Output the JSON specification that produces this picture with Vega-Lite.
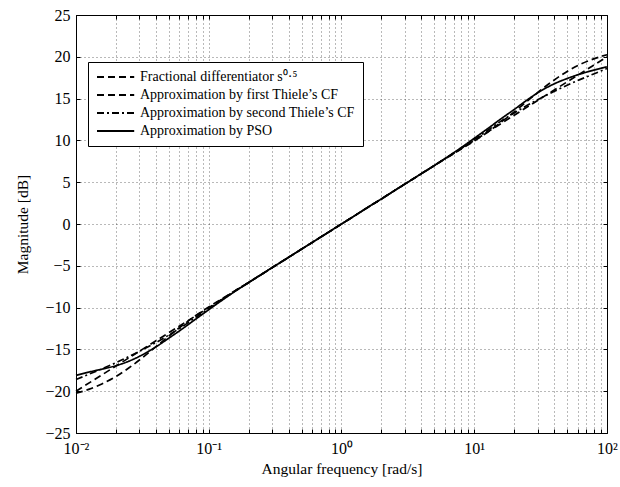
{
"$schema": "https://vega.github.io/schema/vega-lite/v6.json",
"width": 531, "height": 418,
"autosize": {"type": "none"},
"padding": {"left": 76, "top": 15, "right": 13, "bottom": 54},
"background": "white",
"config": {"view": {"stroke": "black", "strokeWidth": 1}, "font": "Liberation Serif"},
"datasets": {"d": [
{"w":0.01,"m":-20,"s":"a"},{"w":0.0316,"m":-15,"s":"a"},{"w":0.1,"m":-10,"s":"a"},{"w":0.316,"m":-5,"s":"a"},{"w":1,"m":0,"s":"a"},{"w":3.16,"m":5,"s":"a"},{"w":10,"m":10,"s":"a"},{"w":31.6,"m":15,"s":"a"},{"w":100,"m":20,"s":"a"},
{"w":0.01,"m":-20.25,"s":"b"},{"w":0.0126,"m":-19.75,"s":"b"},{"w":0.0158,"m":-19.1,"s":"b"},{"w":0.02,"m":-18.25,"s":"b"},{"w":0.0251,"m":-17.2,"s":"b"},{"w":0.0316,"m":-16.0,"s":"b"},{"w":0.0398,"m":-14.7,"s":"b"},{"w":0.0501,"m":-13.4,"s":"b"},{"w":0.0631,"m":-12.15,"s":"b"},{"w":0.0794,"m":-10.98,"s":"b"},{"w":0.1,"m":-9.92,"s":"b"},{"w":0.126,"m":-8.94,"s":"b"},{"w":0.158,"m":-7.97,"s":"b"},{"w":0.2,"m":-7,"s":"b"},{"w":0.251,"m":-6,"s":"b"},{"w":0.316,"m":-5,"s":"b"},{"w":0.398,"m":-4,"s":"b"},{"w":0.501,"m":-3,"s":"b"},{"w":0.631,"m":-2,"s":"b"},{"w":0.794,"m":-1,"s":"b"},{"w":1,"m":0,"s":"b"},{"w":1.26,"m":1,"s":"b"},{"w":1.58,"m":2,"s":"b"},{"w":2,"m":3,"s":"b"},{"w":2.51,"m":4,"s":"b"},{"w":3.16,"m":5,"s":"b"},{"w":3.98,"m":6,"s":"b"},{"w":5.01,"m":7,"s":"b"},{"w":6.31,"m":7.97,"s":"b"},{"w":7.94,"m":8.94,"s":"b"},{"w":10,"m":9.92,"s":"b"},{"w":12.6,"m":10.98,"s":"b"},{"w":15.8,"m":12.15,"s":"b"},{"w":20,"m":13.4,"s":"b"},{"w":25.1,"m":14.7,"s":"b"},{"w":31.6,"m":16.0,"s":"b"},{"w":39.8,"m":17.2,"s":"b"},{"w":50.1,"m":18.25,"s":"b"},{"w":63.1,"m":19.1,"s":"b"},{"w":79.4,"m":19.75,"s":"b"},{"w":100,"m":20.25,"s":"b"},
{"w":0.01,"m":-18.6,"s":"c"},{"w":0.0126,"m":-17.95,"s":"c"},{"w":0.0158,"m":-17.3,"s":"c"},{"w":0.02,"m":-16.6,"s":"c"},{"w":0.0251,"m":-15.85,"s":"c"},{"w":0.0316,"m":-15.05,"s":"c"},{"w":0.0398,"m":-14.2,"s":"c"},{"w":0.0501,"m":-13.28,"s":"c"},{"w":0.0631,"m":-12.28,"s":"c"},{"w":0.0794,"m":-11.2,"s":"c"},{"w":0.1,"m":-10.1,"s":"c"},{"w":0.126,"m":-9.04,"s":"c"},{"w":0.158,"m":-8,"s":"c"},{"w":0.2,"m":-7,"s":"c"},{"w":0.251,"m":-6,"s":"c"},{"w":0.316,"m":-5,"s":"c"},{"w":0.398,"m":-4,"s":"c"},{"w":0.501,"m":-3,"s":"c"},{"w":0.631,"m":-2,"s":"c"},{"w":0.794,"m":-1,"s":"c"},{"w":1,"m":0,"s":"c"},{"w":1.26,"m":1,"s":"c"},{"w":1.58,"m":2,"s":"c"},{"w":2,"m":3,"s":"c"},{"w":2.51,"m":4,"s":"c"},{"w":3.16,"m":5,"s":"c"},{"w":3.98,"m":6,"s":"c"},{"w":5.01,"m":7,"s":"c"},{"w":6.31,"m":8,"s":"c"},{"w":7.94,"m":9.04,"s":"c"},{"w":10,"m":10.1,"s":"c"},{"w":12.6,"m":11.2,"s":"c"},{"w":15.8,"m":12.28,"s":"c"},{"w":20,"m":13.28,"s":"c"},{"w":25.1,"m":14.2,"s":"c"},{"w":31.6,"m":15.05,"s":"c"},{"w":39.8,"m":15.85,"s":"c"},{"w":50.1,"m":16.6,"s":"c"},{"w":63.1,"m":17.3,"s":"c"},{"w":79.4,"m":17.95,"s":"c"},{"w":100,"m":18.6,"s":"c"},
{"w":0.01,"m":-18.1,"s":"d"},{"w":0.0126,"m":-17.7,"s":"d"},{"w":0.0158,"m":-17.35,"s":"d"},{"w":0.02,"m":-16.95,"s":"d"},{"w":0.0251,"m":-16.4,"s":"d"},{"w":0.0316,"m":-15.65,"s":"d"},{"w":0.0398,"m":-14.72,"s":"d"},{"w":0.0501,"m":-13.65,"s":"d"},{"w":0.0631,"m":-12.55,"s":"d"},{"w":0.0794,"m":-11.4,"s":"d"},{"w":0.1,"m":-10.25,"s":"d"},{"w":0.126,"m":-9.12,"s":"d"},{"w":0.158,"m":-8.05,"s":"d"},{"w":0.2,"m":-7,"s":"d"},{"w":0.251,"m":-6,"s":"d"},{"w":0.316,"m":-5,"s":"d"},{"w":0.398,"m":-4,"s":"d"},{"w":0.501,"m":-3,"s":"d"},{"w":0.631,"m":-2,"s":"d"},{"w":0.794,"m":-1,"s":"d"},{"w":1,"m":0,"s":"d"},{"w":1.26,"m":1,"s":"d"},{"w":1.58,"m":2,"s":"d"},{"w":2,"m":3,"s":"d"},{"w":2.51,"m":4,"s":"d"},{"w":3.16,"m":5,"s":"d"},{"w":3.98,"m":6,"s":"d"},{"w":5.01,"m":7,"s":"d"},{"w":6.31,"m":8.05,"s":"d"},{"w":7.94,"m":9.12,"s":"d"},{"w":10,"m":10.25,"s":"d"},{"w":12.6,"m":11.4,"s":"d"},{"w":15.8,"m":12.55,"s":"d"},{"w":20,"m":13.7,"s":"d"},{"w":25.1,"m":14.85,"s":"d"},{"w":31.6,"m":15.9,"s":"d"},{"w":39.8,"m":16.75,"s":"d"},{"w":50.1,"m":17.4,"s":"d"},{"w":63.1,"m":17.95,"s":"d"},{"w":79.4,"m":18.4,"s":"d"},{"w":100,"m":18.8,"s":"d"}
]},
"data": {"name": "d"},
"layer": [
{"mark": {"type": "line", "color": "black", "strokeWidth": 1.7, "interpolate": "monotone"},
 "encoding": {
  "x": {"field": "w", "type": "quantitative",
   "scale": {"type": "log", "domain": [0.01, 100], "nice": false},
   "axis": {"orient": "bottom", "title": "Angular frequency [rad/s]",
    "values": [0.01,0.02,0.03,0.04,0.05,0.06,0.07,0.08,0.09,0.1,0.2,0.3,0.4,0.5,0.6,0.7,0.8,0.9,1,2,3,4,5,6,7,8,9,10,20,30,40,50,60,70,80,90,100],
    "labelExpr": "datum.value == 0.01 ? '10⁻²' : datum.value == 0.1 ? '10⁻¹' : datum.value == 1 ? '10⁰' : datum.value == 10 ? '10¹' : datum.value == 100 ? '10²' : ''",
    "grid": true, "gridDash": [1, 3], "gridColor": "#000", "gridOpacity": 0.55, "gridWidth": 1,
    "domain": false, "tickSize": -4, "tickColor": "black", "labelPadding": 11,
    "labelFont": "Liberation Serif", "labelFontSize": 16, "labelColor": "black", "labelFlush": false, "labelOverlap": false,
    "titleFont": "Liberation Serif", "titleFontSize": 15.5, "titleFontWeight": "normal", "titleColor": "black", "titlePadding": 5}},
  "y": {"field": "m", "type": "quantitative",
   "scale": {"domain": [-25, 25], "nice": false},
   "axis": {"orient": "left", "title": "Magnitude [dB]",
    "values": [-25,-20,-15,-10,-5,0,5,10,15,20,25],
    "labelExpr": "replace(format(datum.value, 'd'), '-', '−')",
    "grid": true, "gridDash": [1, 3], "gridColor": "#000", "gridOpacity": 0.55,
    "domain": false, "tickSize": -4, "tickColor": "black", "labelPadding": 10,
    "labelFont": "Liberation Serif", "labelFontSize": 16, "labelColor": "black",
    "titleFont": "Liberation Serif", "titleFontSize": 15.5, "titleFontWeight": "normal", "titleColor": "black", "titlePadding": 14}},
  "strokeDash": {"field": "s", "type": "nominal",
   "scale": {"domain": ["a","b","c","d"], "range": [[7,4],[7,4],[7,3,2,3],[1,0]]},
   "legend": {"title": null, "orient": "none", "legendX": 12, "legendY": 47,
    "fillColor": "white", "strokeColor": "black", "padding": 8,
    "symbolType": "M-1,0H5.2", "symbolSize": 144, "symbolStrokeWidth": 2, "symbolStrokeColor": "black", "symbolFillColor": "transparent",
    "labelFont": "Liberation Serif", "labelFontSize": 14, "labelColor": "black", "labelLimit": 400, "labelOffset": 30, "rowPadding": 4,
    "labelExpr": "datum.label == 'a' ? 'Fractional differentiator s⁰·⁵' : datum.label == 'b' ? 'Approximation by first Thiele’s CF' : datum.label == 'c' ? 'Approximation by second Thiele’s CF' : 'Approximation by PSO'"}}
 }},
{"mark": {"type": "line", "strokeOpacity": 0},
 "encoding": {
  "x": {"field": "w", "type": "quantitative",
   "axis": {"orient": "top", "title": null, "labels": false, "grid": false, "domain": false,
    "values": [0.01,0.02,0.03,0.04,0.05,0.06,0.07,0.08,0.09,0.1,0.2,0.3,0.4,0.5,0.6,0.7,0.8,0.9,1,2,3,4,5,6,7,8,9,10,20,30,40,50,60,70,80,90,100],
    "tickSize": -4, "tickColor": "black"}},
  "y": {"field": "m", "type": "quantitative",
   "axis": {"orient": "right", "title": null, "labels": false, "grid": false, "domain": false,
    "values": [-25,-20,-15,-10,-5,0,5,10,15,20,25], "tickSize": -4, "tickColor": "black"}}
 }}
],
"resolve": {"axis": {"x": "independent", "y": "independent"}}
}
